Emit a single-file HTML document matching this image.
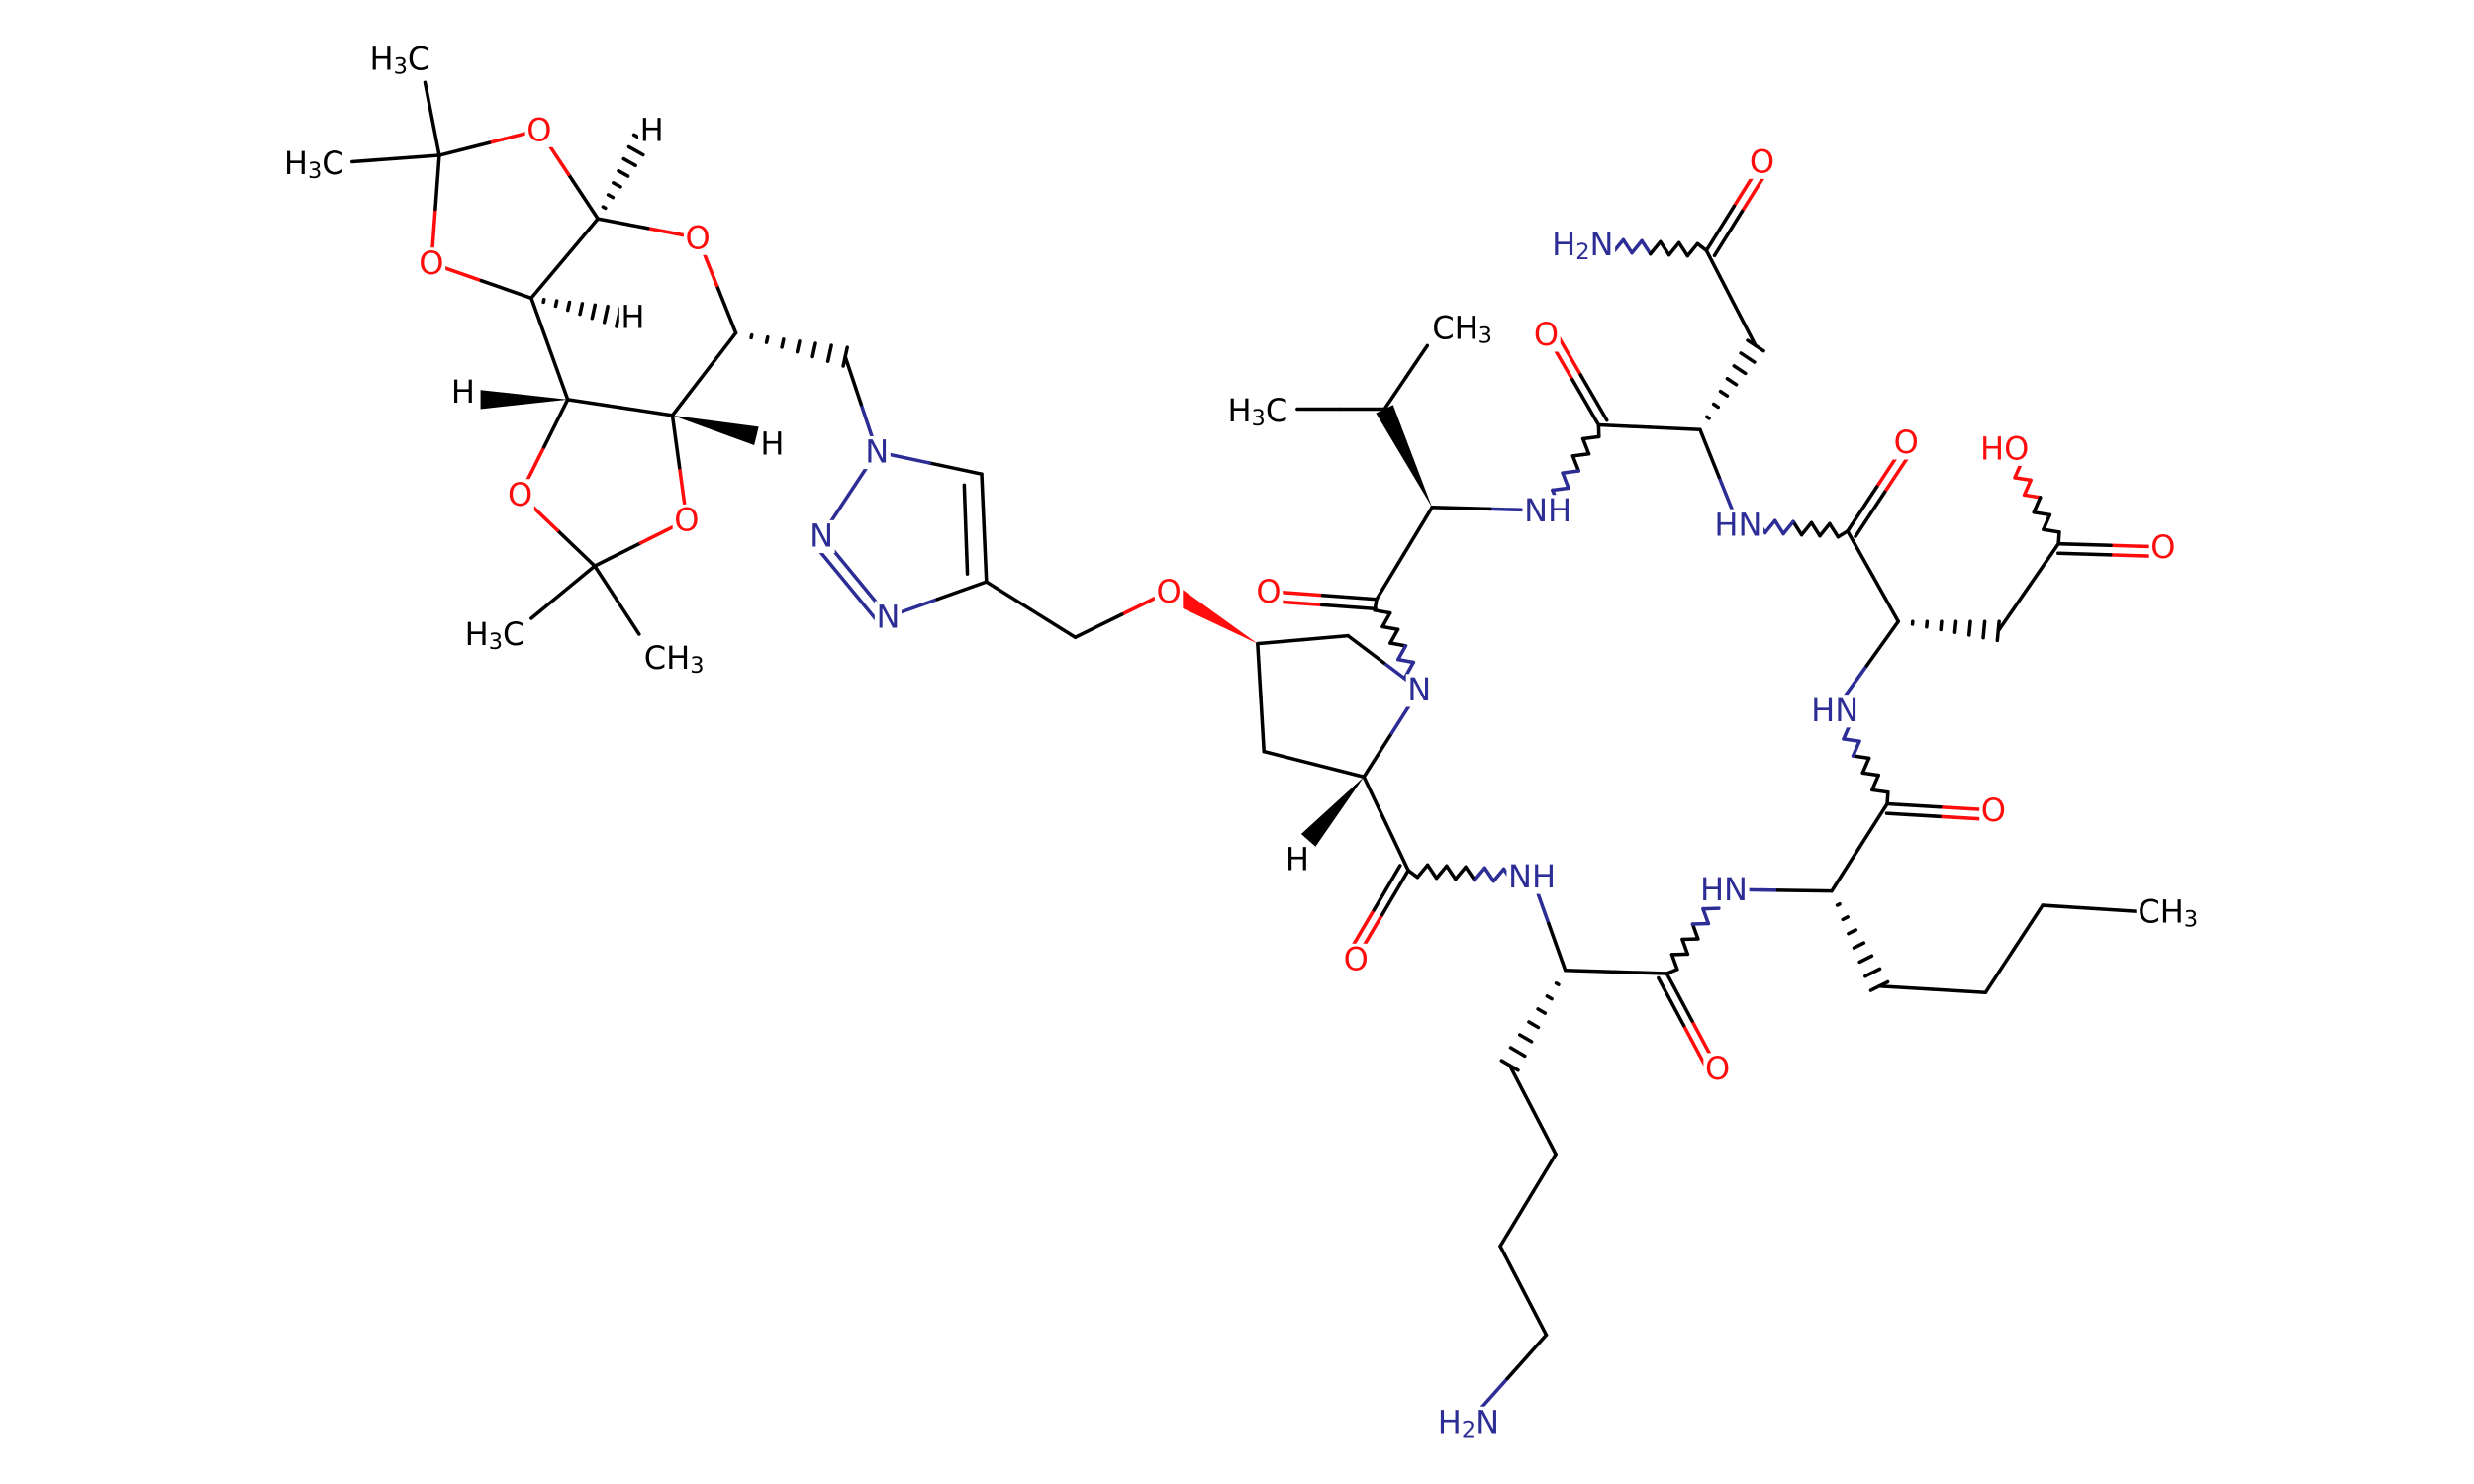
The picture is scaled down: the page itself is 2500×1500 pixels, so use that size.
<!DOCTYPE html>
<html><head><meta charset="utf-8"><style>
html,body{margin:0;padding:0;background:#fff;}
svg{display:block;}
text{font-family:"DejaVu Sans","Liberation Sans",sans-serif;font-size:20px;}
.o{fill:#ff0d0d}.n{fill:#2d2d96}.c{fill:#000}
</style></head><body>
<svg id="s" width="2500" height="1500" viewBox="0 0 1560 936" xmlns="http://www.w3.org/2000/svg">
<g id="b" stroke-width="2.2" stroke-linecap="round" fill="none"></g>
<g id="bg" fill="#fff"></g>
<g id="t" text-anchor="middle" dominant-baseline="central">
<text x="252" y="37" class="c">H<tspan font-size="14" dy="5">3</tspan><tspan dy="-5">C</tspan></text>
<text x="198" y="103" class="c">H<tspan font-size="14" dy="5">3</tspan><tspan dy="-5">C</tspan></text>
<text x="340" y="82" class="o">O</text>
<text x="272" y="166" class="o">O</text>
<text x="411" y="82" class="c">H</text>
<text x="440" y="150" class="o">O</text>
<text x="399" y="200" class="c">H</text>
<text x="292" y="247" class="c">H</text>
<text x="487" y="280" class="c">H</text>
<text x="328" y="312" class="o">O</text>
<text x="433" y="328" class="o">O</text>
<text x="312" y="400" class="c">H<tspan font-size="14" dy="5">3</tspan><tspan dy="-5">C</tspan></text>
<text x="425" y="415" class="c">CH<tspan font-size="14" dy="5">3</tspan></text>
<text x="553" y="285" class="n">N</text>
<text x="518" y="338" class="n">N</text>
<text x="560" y="389" class="n">N</text>
<text x="737" y="373" class="o">O</text>
<text x="895" y="435" class="n">N</text>
<text x="818" y="542" class="c">H</text>
<text x="800" y="373" class="o">O</text>
<text x="922" y="207" class="c">CH<tspan font-size="14" dy="5">3</tspan></text>
<text x="793" y="259" class="c">H<tspan font-size="14" dy="5">3</tspan><tspan dy="-5">C</tspan></text>
<text x="976" y="322" class="n">NH</text>
<text x="975" y="211" class="o">O</text>
<text x="1111" y="102" class="o">O</text>
<text x="998" y="154" class="n">H<tspan font-size="14" dy="5">2</tspan><tspan dy="-5">N</tspan></text>
<text x="1096" y="331" class="n">HN</text>
<text x="1202" y="279" class="o">O</text>
<text x="1264" y="283" class="o">HO</text>
<text x="1364" y="345" class="o">O</text>
<text x="1157" y="448" class="n">HN</text>
<text x="1257" y="511" class="o">O</text>
<text x="1087" y="561" class="n">HN</text>
<text x="1367" y="575" class="c">CH<tspan font-size="14" dy="5">3</tspan></text>
<text x="1083" y="674" class="o">O</text>
<text x="966" y="553" class="n">NH</text>
<text x="855" y="605" class="o">O</text>
<text x="926" y="897" class="n">H<tspan font-size="14" dy="5">2</tspan><tspan dy="-5">N</tspan></text>
</g>
</svg>
<script>
var g=document.getElementById('b'),NS='http://www.w3.org/2000/svg';
var K='#000',R='#ff0d0d',B='#2d2d96';
function ln(a,b,c,d,col){var l=document.createElementNS(NS,'line');l.setAttribute('x1',a);l.setAttribute('y1',b);l.setAttribute('x2',c);l.setAttribute('y2',d);l.setAttribute('stroke',col||K);g.insertBefore(l,g.firstChild);}
function bd(p,q,c1,c2){c2=c2||c1||K;c1=c1||K;var mx=(p[0]+q[0])/2,my=(p[1]+q[1])/2;ln(p[0],p[1],mx,my,c1);ln(mx,my,q[0],q[1],c2);}
function db(p,q,c1,c2,off){off=off||6;var dx=q[0]-p[0],dy=q[1]-p[1],L=Math.hypot(dx,dy),nx=-dy/L*off,ny=dx/L*off;bd(p,q,c1,c2);bd([p[0]+nx,p[1]+ny],[q[0]+nx,q[1]+ny],c1,c2);}
function wedge(p,q,col){var dx=q[0]-p[0],dy=q[1]-p[1],L=Math.hypot(dx,dy),nx=-dy/L*6,ny=dx/L*6;var e=document.createElementNS(NS,'polygon');e.setAttribute('points',p[0]+','+p[1]+' '+(q[0]+nx)+','+(q[1]+ny)+' '+(q[0]-nx)+','+(q[1]-ny));e.setAttribute('fill',col||K);e.setAttribute('stroke','none');g.appendChild(e);}
function hash(p,q){var dx=q[0]-p[0],dy=q[1]-p[1],L=Math.hypot(dx,dy),nx=-dy/L,ny=dx/L;for(var i=1;i<=7;i++){var f=i/7,w=6*f,x=p[0]+dx*f,y=p[1]+dy*f;ln(x+nx*w,y+ny*w,x-nx*w,y-ny*w,K);}}
function wav(p,q,c1,c2){c1=c1||K;c2=c2||c1;var dx=q[0]-p[0],dy=q[1]-p[1],L=Math.hypot(dx,dy),nx=-dy/L*4,ny=dx/L*4,n=Math.round(L/6);var prev=p;for(var i=1;i<=n;i++){var f=i/n,s=(i==n)?0:(i%2?1:-1);var pt=[p[0]+dx*f+nx*s,p[1]+dy*f+ny*s];ln(prev[0],prev[1],pt[0],pt[1],f<=0.5?c1:c2);prev=pt;}}
var A={me1:[277,98],t1:[268,52],l1:[222,102],O1:[340,82],O2:[272,166],C1:[377,138],Or:[440,150],C5:[464,210],C4:[424,262],C3:[358,252],C2:[335,188],O3:[328,312],O4:[433,328],me2:[375,357],m3:[335,390],m4:[403,400],
CH2a:[533,225],N1:[553,285],C5t:[619,299],C4t:[622,367],N3:[560,389],N2:[518,338],CH2b:[678,402],Oe:[737,373],P4:[793,406],P5:[850,401],PN:[895,435],Pa:[860,490],P3:[797,474],
Cv:[868,378],Ov:[800,373],Va:[903,320],Vb:[873,258],Vm1:[900,218],Vm2:[818,258],NH1:[976,322],C2c:[1008,268],O2c:[975,211],Aa:[1072,271],Ab:[1107,218],Ac:[1076,158],Ao:[1111,102],AN:[1000,154],
HN2:[1096,331],C3c:[1165,335],O3c:[1202,279],Da:[1197,392],Db:[1260,398],Dc:[1298,343],Do:[1364,345],DOH:[1265,283],
HN3:[1157,448],C4c:[1190,507],O4c:[1257,511],La:[1155,562],HN4:[1087,561],Lb:[1185,622],Lc:[1252,626],Ld:[1288,571],Le:[1350,575],
C5c:[1051,614],O5c:[1083,674],Ka:[987,612],NH5:[966,553],Kb:[952,672],Kc:[981,728],Kd:[946,786],Ke:[975,842],KN:[926,897],C6c:[888,549],O6c:[855,605]};
function B2(a,b,c1,c2){bd(A[a],A[b],c1,c2);}
B2('me1','t1');B2('me1','l1');B2('me1','O1',K,R);B2('me1','O2',K,R);B2('O1','C1',R,K);B2('C1','Or',K,R);B2('Or','C5',R,K);B2('C5','C4');B2('C4','C3');B2('C3','C2');B2('C2','C1');B2('C2','O2',K,R);
B2('C3','O3',K,R);B2('C4','O4',K,R);B2('O3','me2',R,K);B2('O4','me2',R,K);B2('me2','m3');B2('me2','m4');
hash(A.C1,[405,88]);hash(A.C2,[390,200]);wedge(A.C3,[303,252]);wedge(A.C4,[477,275]);
hash(A.C5,A.CH2a);B2('CH2a','N1',K,B);B2('N1','C5t',B,K);B2('C5t','C4t');ln(608,306,610,362,K);B2('C4t','N3',K,B);db(A.N3,A.N2,B,B,-7);B2('N2','N1',B,B);
B2('C4t','CH2b');B2('CH2b','Oe',K,R);wedge(A.P4,A.Oe,R);B2('P4','P5');B2('P5','PN',K,B);B2('PN','Pa',B,K);B2('Pa','P3');B2('P3','P4');wedge(A.Pa,[825,530]);
wav(A.PN,A.Cv,B,K);db(A.Cv,A.Ov,K,R,-6);B2('Cv','Va');wedge(A.Va,A.Vb);B2('Vb','Vm1');B2('Vb','Vm2');B2('Va','NH1',K,B);
wav(A.NH1,A.C2c,B,K);db(A.C2c,A.O2c,K,R,6);B2('C2c','Aa');hash(A.Aa,A.Ab);B2('Ab','Ac');db(A.Ac,A.Ao,K,R,6);wav(A.Ac,A.AN,K,B);
B2('Aa','HN2',K,B);wav(A.HN2,A.C3c,B,K);db(A.C3c,A.O3c,K,R,6);B2('C3c','Da');hash(A.Da,A.Db);B2('Db','Dc');db(A.Dc,A.Do,K,R,6);wav(A.Dc,A.DOH,K,R);
B2('Da','HN3',K,B);wav(A.HN3,A.C4c,B,K);db(A.C4c,A.O4c,K,R,6);B2('C4c','La');B2('La','HN4',K,B);hash(A.La,A.Lb);B2('Lb','Lc');B2('Lc','Ld');B2('Ld','Le');
wav(A.HN4,A.C5c,B,K);db(A.C5c,A.O5c,K,R,6);B2('C5c','Ka');B2('Ka','NH5',K,B);hash(A.Ka,A.Kb);B2('Kb','Kc');B2('Kc','Kd');B2('Kd','Ke');B2('Ke','KN',K,B);
wav(A.NH5,A.C6c,B,K);db(A.C6c,A.O6c,K,R,6);B2('C6c','Pa');
var bgG=document.getElementById('bg');
document.querySelectorAll('#t text').forEach(function(t){var bb=t.getBBox();var r=document.createElementNS(NS,'rect');r.setAttribute('x',bb.x-1);r.setAttribute('y',bb.y+2);r.setAttribute('width',bb.width+2);r.setAttribute('height',bb.height-3);bgG.appendChild(r);});
</script>
</body></html>
